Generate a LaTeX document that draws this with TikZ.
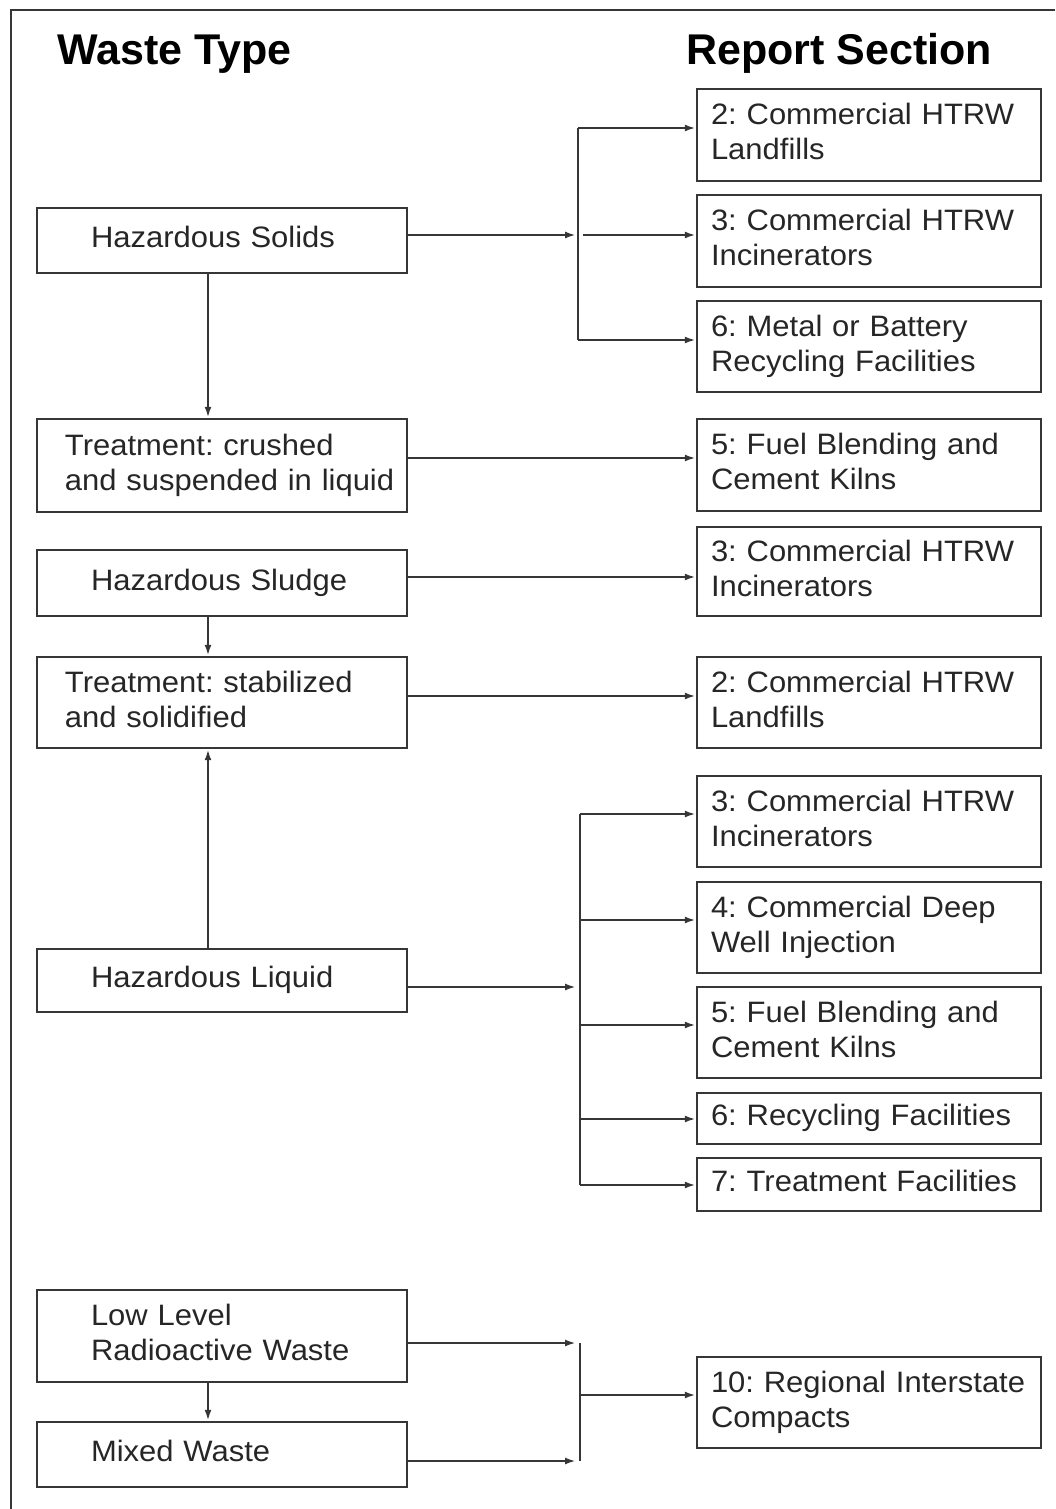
\documentclass[tikz,border=0pt]{standalone}
\usepackage{fontspec}
\setmainfont{Liberation Sans}
\newfontfamily\boxfont[FakeStretch=1.05]{Liberation Sans}
\usetikzlibrary{arrows.meta}
\definecolor{lc}{HTML}{363636}
\definecolor{tc}{HTML}{262626}
\frenchspacing
\begin{document}
\begin{tikzpicture}[x=1pt,y=-1pt,
  txtin/.style={execute at begin node={\frenchspacing\leftskip=#1\strut}, execute at end node={\strut}},
  lbox/.style={draw=lc, line width=2.4pt, inner sep=0pt, text width=370pt, align=left,
    minimum height=#1, text=tc, font={\fontsize{29.5pt}{35pt}\boxfont}, txtin=54pt},
  lbox2/.style={lbox=#1, txtin=28pt},
  rbox/.style={draw=lc, line width=2.4pt, inner sep=0pt, text width=344pt, align=left,
    minimum height=#1, text=tc, font={\fontsize{29.5pt}{35pt}\boxfont}, txtin=14pt},
  head/.style={anchor=base west, inner sep=0pt, font={\fontsize{43pt}{50pt}\selectfont\bfseries}},
  ln/.style={draw=lc, line width=2.4pt},
  arr/.style={ln, -{Latex[length=11pt,width=7pt]}}
]
\useasboundingbox (0,0) rectangle (1055,1509);
\draw[ln] (11,1509) -- (11,10) -- (1055,10);

\node[head] (h1) at (57,65) {Waste Type};
\node[head] (h2) at (686,65) {Report Section};

% left boxes
\node[lbox=65pt] (hs) at (222,240.5) {Hazardous Solids};
\node[lbox2=93pt] (tc) at (222,465.5) {Treatment: crushed\\and suspended in liquid};
\node[lbox=66pt] (hsl) at (222,583) {Hazardous Sludge};
\node[lbox2=91pt] (ts) at (222,702.5) {Treatment: stabilized\\and solidified};
\node[lbox=63pt] (hl) at (222,980.5) {Hazardous Liquid};
\node[lbox=92pt] (ll) at (222,1336) {Low Level\\Radioactive Waste};
\node[lbox=65pt] (mw) at (222,1454.5) {Mixed Waste};

% right boxes
\node[rbox=92pt] (r1) at (869,135) {2: Commercial HTRW\\Landfills};
\node[rbox=92pt] (r2) at (869,241) {3: Commercial HTRW\\Incinerators};
\node[rbox=91pt] (r3) at (869,346.5) {6: Metal or Battery\\Recycling Facilities};
\node[rbox=92pt] (r4) at (869,465) {5: Fuel Blending and\\Cement Kilns};
\node[rbox=89pt] (r5) at (869,571.5) {3: Commercial HTRW\\Incinerators};
\node[rbox=91pt] (r6) at (869,702.5) {2: Commercial HTRW\\Landfills};
\node[rbox=91pt] (r7) at (869,821.5) {3: Commercial HTRW\\Incinerators};
\node[rbox=91pt] (r8) at (869,927.5) {4: Commercial Deep\\Well Injection};
\node[rbox=91pt] (r9) at (869,1032.5) {5: Fuel Blending and\\Cement Kilns};
\node[rbox=51pt] (r10) at (869,1118.5) {6: Recycling Facilities};
\node[rbox=53pt] (r11) at (869,1184.5) {7: Treatment Facilities};
\node[rbox=91pt] (r12) at (869,1402.5) {10: Regional Interstate\\Compacts};

% Hazardous Solids fan-out
\coordinate (j1) at (576,235);
\coordinate (b1t) at (578,128);
\coordinate (b1m) at (583,235);
\coordinate (b1b) at (578,340);
\draw[arr] ([yshift=5.5pt]hs.east) -- (j1);
\draw[ln] (b1t) -- (b1b);
\draw[arr] (b1t) -- (r1.west |- b1t);
\draw[arr] (b1m) -- (r2.west |- b1m);
\draw[arr] (b1b) -- (r3.west |- b1b);

% vertical links
\draw[arr] ([xshift=-14pt]hs.south) -- ([xshift=-14pt]tc.north);
\draw[arr] ([xshift=-14pt]hsl.south) -- ([xshift=-14pt]ts.north);
\draw[arr] ([xshift=-14pt]hl.north) -- ([xshift=-14pt]ts.south);
\draw[arr] ([xshift=-14pt]ll.south) -- ([xshift=-14pt]mw.north);

% direct links
\coordinate (a2) at ([yshift=7.5pt]tc.east);
\draw[arr] (a2) -- (r4.west |- a2);
\coordinate (a3) at ([yshift=6pt]hsl.east);
\draw[arr] (a3) -- (r5.west |- a3);
\coordinate (a4) at ([yshift=6.5pt]ts.east);
\draw[arr] (a4) -- (r6.west |- a4);

% Hazardous Liquid fan-out
\coordinate (a5) at ([yshift=-6.5pt]hl.east);
\coordinate (j2) at (576,987);
\draw[arr] (a5) -- (j2);
\coordinate (b2t) at (580,814);
\coordinate (b2a) at (580,920);
\coordinate (b2b) at (580,1025);
\coordinate (b2c) at (580,1119);
\coordinate (b2d) at (580,1185);
\draw[ln] (b2t) -- (b2d);
\draw[arr] (b2t) -- (r7.west |- b2t);
\draw[arr] (b2a) -- (r8.west |- b2a);
\draw[arr] (b2b) -- (r9.west |- b2b);
\draw[arr] (b2c) -- (r10.west |- b2c);
\draw[arr] (b2d) -- (r11.west |- b2d);

% Radioactive merge
\coordinate (a6) at ([yshift=-7pt]ll.east);
\coordinate (a7) at ([yshift=-6.5pt]mw.east);
\coordinate (j3) at (576,1343);
\coordinate (j4) at (576,1461);
\coordinate (b3t) at (580,1343);
\coordinate (b3m) at (580,1395);
\coordinate (b3b) at (580,1461);
\draw[arr] (a6) -- (j3);
\draw[arr] (a7) -- (j4);
\draw[ln] (b3t) -- (b3b);
\draw[arr] (b3m) -- (r12.west |- b3m);
\end{tikzpicture}
\end{document}
